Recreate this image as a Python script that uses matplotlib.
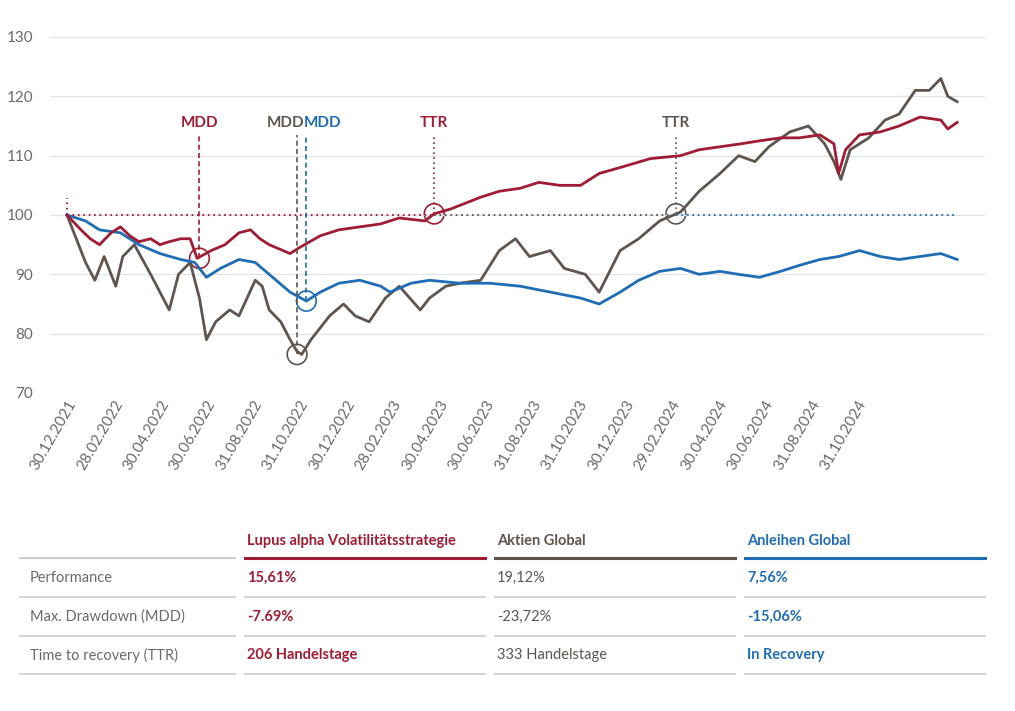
import matplotlib.pyplot as plt
from matplotlib.lines import Line2D
from matplotlib.patches import Ellipse

RED = '#a01c34'
GREY = '#5e554f'
BLUE = '#1f6db5'

# x = months since 30.12.2021
lupus_x = [0, 0.6, 1.0, 1.4, 1.9, 2.3, 2.7, 3.1, 3.6, 4.0, 4.4, 4.9, 5.3, 5.6, 6.2, 6.8, 7.4, 7.9, 8.3, 8.7,
           9.3, 9.6, 10.0, 10.9, 11.7, 12.6, 13.5, 14.3, 15.4, 15.8, 16.5, 17.8, 18.6, 19.5, 20.3, 21.2, 22.1,
           22.9, 23.8, 25.1, 26.4, 27.2, 28.1, 29.0, 29.8, 30.7, 31.5, 32.4, 33.0, 33.2, 33.5, 34.1, 35.0,
           35.8, 36.7, 37.6, 37.9, 38.3]
lupus_y = [100, 97.5, 96, 95, 97, 98, 96.5, 95.5, 96, 95, 95.5, 96, 96, 92.7, 94, 95, 97, 97.5, 96, 95,
           94, 93.5, 94.5, 96.5, 97.5, 98, 98.5, 99.5, 99, 100.2, 101, 103, 104, 104.5, 105.5, 105, 105,
           107, 108, 109.5, 110, 111, 111.5, 112, 112.5, 113, 113, 113.5, 112, 107, 111, 113.5, 114,
           115, 116.5, 116, 114.5, 115.6]

aktien_x = [0, 0.3, 0.8, 1.2, 1.6, 2.1, 2.4, 2.9, 3.6, 4.0, 4.4, 4.8, 5.3, 5.7, 6.0, 6.4, 7.0, 7.4, 8.1,
            8.4, 8.7, 9.2, 9.6, 9.9, 10.1, 10.5, 10.9, 11.3, 11.9, 12.4, 13.0, 13.7, 14.3, 15.2, 15.6, 16.3,
            16.9, 17.8, 18.6, 19.3, 19.9, 20.8, 21.4, 22.3, 22.9, 23.8, 24.6, 25.5, 26.4, 27.2, 28.1, 28.9,
            29.6, 30.2, 31.1, 31.9, 32.6, 33.0, 33.3, 33.7, 34.5, 35.2, 35.8, 36.5, 37.1, 37.6, 37.9, 38.3]
aktien_y = [100, 97, 92, 89, 93, 88, 93, 95, 90, 87, 84, 90, 92, 86, 79, 82, 84, 83, 89,
            88, 84, 82, 79, 77, 76.5, 79, 81, 83, 85, 83, 82, 86, 88, 84, 86, 88,
            88.5, 89, 94, 96, 93, 94, 91, 90, 87, 94, 96, 99, 100.5, 104, 107, 110,
            109, 111.5, 114, 115, 112, 109, 106, 111, 113, 116, 117, 121, 121, 123, 120, 119.1]

anleihen_x = [0, 0.8, 1.4, 2.3, 3.1, 4.0, 4.9, 5.5, 6.0, 6.6, 7.4, 8.1, 8.7, 9.6, 10.3, 10.9, 11.7, 12.6,
              13.5, 13.9, 14.8, 15.6, 16.9, 18.2, 19.5, 20.8, 22.1, 22.9, 23.8, 24.6, 25.5, 26.4, 27.2,
              28.1, 28.9, 29.8, 30.7, 31.5, 32.4, 33.2, 34.1, 35.0, 35.8, 36.7, 37.6, 38.3]
anleihen_y = [100, 99, 97.5, 97, 95, 93.5, 92.5, 92, 89.5, 91, 92.5, 92, 90, 87, 85.5, 87, 88.5, 89,
              88, 87, 88.5, 89, 88.5, 88.5, 88, 87, 86, 85, 87, 89, 90.5, 91, 90,
              90.5, 90, 89.5, 90.5, 91.5, 92.5, 93, 94, 93, 92.5, 93, 93.5, 92.5]

tick_labels = ['30.12.2021', '28.02.2022', '30.04.2022', '30.06.2022', '31.08.2022', '31.10.2022',
               '30.12.2022', '28.02.2023', '30.04.2023', '30.06.2023', '31.08.2023', '31.10.2023',
               '30.12.2023', '29.02.2024', '30.04.2024', '30.06.2024', '31.08.2024', '31.10.2024']

row_labels = ['Performance', 'Max. Drawdown (MDD)', 'Time to recovery (TTR)']
col_names = ['Lupus alpha Volatilitätsstrategie', 'Aktien Global', 'Anleihen Global']
col_vals = [['15,61%', '-7.69%', '206 Handelstage'],
            ['19,12%', '-23,72%', '333 Handelstage'],
            ['7,56%', '-15,06%', 'In Recovery']]
colors = [RED, GREY, BLUE]

plt.rcParams['font.family'] = 'Lato'
fig = plt.figure(figsize=(10.15, 7.11), dpi=100)
W, H = 1015, 711
ax = fig.add_axes([50 / W, 1 - 393 / H, 935 / W, 356 / H])
ax.set_xlim(-0.73, 39.5)
ax.set_ylim(70, 130)
for s in ax.spines.values():
    s.set_visible(False)
ax.set_yticks(range(70, 131, 10))
ax.grid(axis='y', color='#e3e3e3', lw=0.9)
ax.tick_params(axis='both', length=0, colors='#6a6a6a', labelsize=11)
ax.tick_params(axis='y', pad=12)
ax.set_xticks(range(0, 36, 2))
ax.set_xticklabels(tick_labels, rotation=60, ha='right', rotation_mode='anchor')

ax.plot(aktien_x, aktien_y, color=GREY, lw=2)
ax.plot(anleihen_x, anleihen_y, color=BLUE, lw=2)
ax.plot(lupus_x, lupus_y, color=RED, lw=2)

# recovery reference lines
ax.plot([0, 15.8], [100, 100], color=RED, lw=1.3, ls=(0, (1, 2)))
ax.plot([0, 0], [100, 102.8], color=RED, lw=1.3, ls=(0, (1, 2)))
ax.plot([15.8, 26.2], [100, 100], color=GREY, lw=1.3, ls=(0, (1, 2)))
ax.plot([26.2, 38.3], [100, 100], color=BLUE, lw=1.3, ls=(0, (1, 2)))

# MDD / TTR markers: (x, y of point, colour, label, label x, linestyle)
marks = [(5.7, 92.7, RED, 'MDD', 5.7, (0, (3, 2))),
         (9.9, 76.5, GREY, 'MDD', 9.4, (0, (3, 2))),
         (10.3, 85.5, BLUE, 'MDD', 11.0, (0, (3, 2))),
         (15.8, 100.2, RED, 'TTR', 15.8, (0, (1, 2))),
         (26.2, 100.2, GREY, 'TTR', 26.2, (0, (1, 2)))]
for x, y, c, lab, lx, ls in marks:
    ax.plot([x, x], [y, 113.4], color=c, lw=1.2, ls=ls)
    ax.add_patch(Ellipse((x, y), 0.85, 3.4, fill=False, ec=c, lw=1.2))
    ax.text(lx, 115.5, lab, color=c, ha='center', va='center', fontsize=11, fontweight='bold')

# table
col_x = [(20, 235), (245, 485), (495, 735), (745, 985)]
def fx(p):
    return p / W
def fy(p):
    return 1 - p / H

for i, (name, c) in enumerate(zip(col_names, colors)):
    x0, x1 = col_x[i + 1]
    fig.text(fx(x0 + 2), fy(541), name, color=c, fontsize=10.5, fontweight='bold', va='center')
    fig.add_artist(Line2D([fx(x0), fx(x1)], [fy(558), fy(558)], color=c, lw=2.2))
fig.add_artist(Line2D([fx(20), fx(235)], [fy(558), fy(558)], color='#cccccc', lw=1.5))

row_y = [578, 617, 655]
line_y = [597, 636, 674]
for r in range(3):
    fig.text(fx(30), fy(row_y[r]), row_labels[r], color='#6a6a6a', fontsize=10.5, va='center')
    for i, (x0, x1) in enumerate(col_x):
        fig.add_artist(Line2D([fx(x0), fx(x1)], [fy(line_y[r]), fy(line_y[r])], color='#d5d5d5', lw=1.5))
    for i in range(3):
        x0, _ = col_x[i + 1]
        fig.text(fx(x0 + 2), fy(row_y[r]), col_vals[i][r], color=colors[i], fontsize=10.5,
                 fontweight='bold' if i != 1 else 'normal', va='center')

fig.savefig('out.png', dpi=100)
